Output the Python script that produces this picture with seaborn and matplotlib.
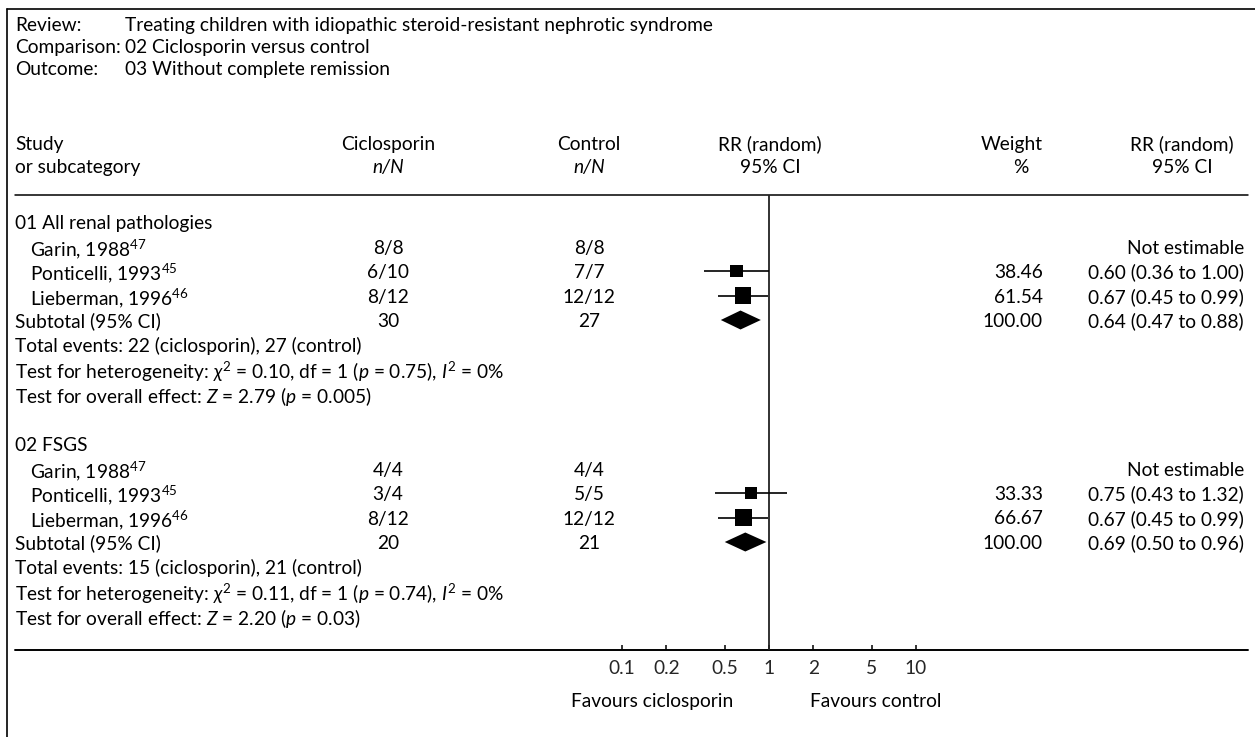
import numpy as np
import pandas as pd
import matplotlib
matplotlib.use("Agg")
import matplotlib.pyplot as plt
import seaborn as sns

# Forest plot data
groups = ["01 All renal pathologies", "02 FSGS"]
studies = ["Garin, 1988", "Ponticelli, 1993", "Lieberman, 1996"]
refs = ["47", "45", "46"]
cic_nN = [["8/8", "6/10", "8/12"], ["4/4", "3/4", "8/12"]]
ctl_nN = [["8/8", "7/7", "12/12"], ["4/4", "5/5", "12/12"]]
rr = [[np.nan, 0.60, 0.67], [np.nan, 0.75, 0.67]]
rr_lo = [[np.nan, 0.36, 0.45], [np.nan, 0.43, 0.45]]
rr_hi = [[np.nan, 1.00, 0.99], [np.nan, 1.32, 0.99]]
weights = [[np.nan, 38.46, 61.54], [np.nan, 33.33, 66.67]]
sub_rr = [0.64, 0.69]
sub_lo = [0.47, 0.50]
sub_hi = [0.88, 0.96]
sub_n_cic = [30, 20]
sub_n_ctl = [27, 21]
events_cic = [22, 15]
events_ctl = [27, 21]
chi2 = ["0.10", "0.11"]
df_het = [1, 1]
p_het = ["0.75", "0.74"]
i2 = [0, 0]
z_val = ["2.79", "2.20"]
p_z = ["0.005", "0.03"]
ticks = [0.1, 0.2, 0.5, 1, 2, 5, 10]
tick_labels = ["0.1", "0.2", "0.5", "1", "2", "5", "10"]

sns.set_theme(style="white")
plt.rcParams["font.family"] = ["Lato", "DejaVu Sans"]
plt.rcParams["mathtext.fontset"] = "custom"
plt.rcParams["mathtext.rm"] = "Lato"
plt.rcParams["mathtext.it"] = "Lato:italic"
plt.rcParams["mathtext.bf"] = "Lato:bold"

W, H = 1255, 737
fs = 13.8
fig = plt.figure(figsize=(W / 100, H / 100), dpi=100)

# background axes in pixel units for the table
bg = fig.add_axes([0, 0, 1, 1])
bg.set_xlim(0, W)
bg.set_ylim(H, 0)
bg.axis("off")

# forest axes, log scale: 1 at x=769 px, one decade = 147 px
x1, dec = 769, 147
fx0, fx1 = 600, 940
top_line, bot_line = 195, 650
fa = fig.add_axes([fx0 / W, (H - bot_line) / H, (fx1 - fx0) / W, (bot_line - top_line) / H])
fa.set_xscale("log")
fa.set_xlim(10 ** ((fx0 - x1) / dec), 10 ** ((fx1 - x1) / dec))
fa.set_ylim(bot_line, top_line)
fa.patch.set_alpha(0)
for s in fa.spines.values():
    s.set_visible(False)
fa.set_yticks([])
fa.set_xticks(ticks)
fa.set_xticklabels(tick_labels, fontsize=fs)
fa.xaxis.set_minor_locator(matplotlib.ticker.NullLocator())
fa.tick_params(axis="x", direction="in", length=3.5, width=1.1, color="black", pad=7,
               bottom=True)
fa.axvline(1, color="#222222", lw=1.3)

# frame and rules
bg.plot([7, W], [9, 9], color="black", lw=1.2)
bg.plot([7, 7], [9, H], color="black", lw=1.2)
bg.plot([15, 1248], [top_line, top_line], color="black", lw=1.1)
bg.plot([15, 1248], [bot_line, bot_line], color="black", lw=1.4)

def txt(x, y, s, ha="left", **kw):
    bg.text(x, y, s, ha=ha, va="center_baseline", fontsize=fs, color="black", **kw)

# header
txt(15, 24, "Review:")
txt(125, 24, "Treating children with idiopathic steroid-resistant nephrotic syndrome")
txt(15, 46, "Comparison:")
txt(125, 46, "02 Ciclosporin versus control")
txt(15, 68, "Outcome:")
txt(125, 68, "03 Without complete remission")

c_cic, c_ctl, c_rr, c_w, c_ci, r_ci = 388, 589, 770, 1043, 1182, 1244
txt(15, 143, "Study")
txt(15, 166, "or subcategory")
txt(c_cic, 143, "Ciclosporin", ha="center")
txt(c_cic, 166, "n/N", ha="center", style="italic")
txt(c_ctl, 143, "Control", ha="center")
txt(c_ctl, 166, "n/N", ha="center", style="italic")
txt(c_rr, 143, "RR (random)", ha="center")
txt(c_rr, 166, "95% CI", ha="center")
txt(c_w, 143, "Weight", ha="right")
txt(1021, 166, "%", ha="center")
txt(c_ci, 143, "RR (random)", ha="center")
txt(c_ci, 166, "95% CI", ha="center")

group_top = [222, 444]
step = 24.5
rows = []
for g in range(2):
    y0 = group_top[g]
    txt(15, y0, groups[g])
    for i in range(3):
        y = y0 + step * (i + 1)
        txt(30, y, studies[i] + "$^{" + refs[i] + "}$")
        txt(c_cic, y, cic_nN[g][i], ha="center")
        txt(c_ctl, y, ctl_nN[g][i], ha="center")
        if np.isnan(rr[g][i]):
            txt(r_ci, y, "Not estimable", ha="right")
        else:
            txt(c_w, y, f"{weights[g][i]:.2f}", ha="right")
            txt(r_ci, y, f"{rr[g][i]:.2f} ({rr_lo[g][i]:.2f} to {rr_hi[g][i]:.2f})", ha="right")
            rows.append({"rr": rr[g][i], "lo": rr_lo[g][i], "hi": rr_hi[g][i],
                         "w": weights[g][i], "y": y})
    ys = y0 + step * 4
    txt(15, ys, "Subtotal (95% CI)")
    txt(c_cic, ys, str(sub_n_cic[g]), ha="center")
    txt(c_ctl, ys, str(sub_n_ctl[g]), ha="center")
    txt(c_w, ys, "100.00", ha="right")
    txt(r_ci, ys, f"{sub_rr[g]:.2f} ({sub_lo[g]:.2f} to {sub_hi[g]:.2f})", ha="right")
    fa.fill([sub_lo[g], sub_rr[g], sub_hi[g], sub_rr[g]], [ys, ys - 9.5, ys, ys + 9.5],
            color="black", lw=0)
    txt(15, y0 + step * 5, f"Total events: {events_cic[g]} (ciclosporin), {events_ctl[g]} (control)")
    txt(15, y0 + step * 6, "Test for heterogeneity: $\\chi^2$ = " + chi2[g] + ", df = "
        + str(df_het[g]) + " ($p$ = " + p_het[g] + "), $I^2$ = " + str(i2[g]) + "%")
    txt(15, y0 + step * 7, "Test for overall effect: $Z$ = " + z_val[g] + " ($p$ = " + p_z[g] + ")")

df = pd.DataFrame(rows)
fa.hlines(df["y"], df["lo"], df["hi"], color="black", lw=1.2)
sns.scatterplot(data=df, x="rr", y="y", size="w", sizes=(0, 218), size_norm=(0, 100),
                marker="s", color="black", linewidth=0, legend=False, ax=fa)
fa.set_xlabel("")
fa.set_ylabel("")

txt(652, 700, "Favours ciclosporin", ha="center")
txt(876, 700, "Favours control", ha="center")

fig.savefig("out.png", dpi=100)
